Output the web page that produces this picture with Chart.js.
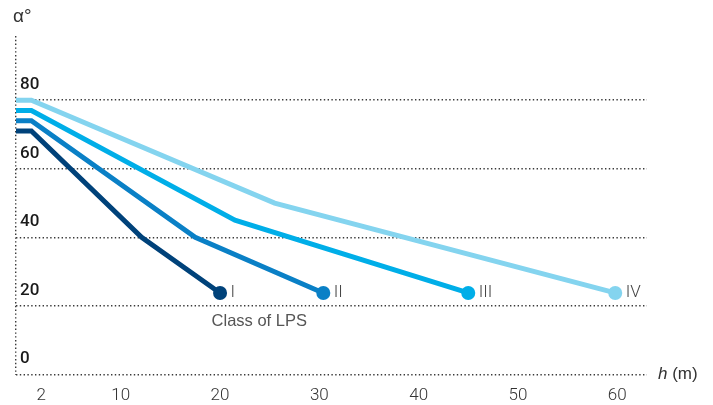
<!DOCTYPE html>
<html>
<head>
<meta charset="utf-8">
<script src="https://cdn.jsdelivr.net/npm/chart.js@4"></script>
<style>
  html, body { margin: 0; padding: 0; background: #fff; }
  #wrap { position: relative; width: 713px; height: 405px; }
</style>
</head>
<body>
<div id="wrap"><canvas id="c"></canvas></div>
<script>
// ---- data ----
const classNames = ["I", "II", "III", "IV"];
const hClassI   = [-0.55, 1, 12.1, 20];
const aClassI   = [71, 71, 40, 23.8];
const hClassII  = [-0.55, 1, 17.5, 30.4];
const aClassII  = [74, 74, 40, 23.8];
const hClassIII = [-0.55, 1, 21.5, 45];
const aClassIII = [77, 77, 45, 23.8];
const hClassIV  = [-0.55, 1, 25.5, 59.8];
const aClassIV  = [80, 80, 50, 23.8];
const xTickValues = [2, 10, 20, 30, 40, 50, 60];
const yTickValues = [0, 20, 40, 60, 80];
const xMin = -0.55, xMax = 63, yMin = 0, yMax = 98.7;
const colors = ["#00427a", "#0a80c6", "#00aee8", "#84d4ef"];

const toPts = (hs, as) => hs.map((h, i) => ({ x: h, y: as[i] }));
const series = [
  toPts(hClassI, aClassI),
  toPts(hClassII, aClassII),
  toPts(hClassIII, aClassIII),
  toPts(hClassIV, aClassIV)
];

const datasets = series.map((pts, i) => ({
  label: classNames[i],
  data: pts,
  borderColor: colors[i],
  backgroundColor: colors[i],
  borderWidth: 5,
  pointRadius: pts.map((p, j) => j === pts.length - 1 ? 7 : 0),
  pointBorderWidth: 0,
  pointHoverRadius: 0,
  fill: false,
  tension: 0
}));

const gridDash = [1.4, 2.4];
const gridColor = "#3a3a3a";

const textPlugin = {
  id: "texts",
  afterDatasetsDraw(chart) {
    const ctx = chart.ctx;
    const area = chart.chartArea;
    const ys = chart.scales.y;
    ctx.save();
    ctx.textBaseline = "middle";
    ctx.textAlign = "left";
    ctx.fillStyle = "#444";
    ctx.font = "300 17px Roboto";
    chart.data.datasets.forEach((ds, i) => {
      const meta = chart.getDatasetMeta(i);
      const last = meta.data[meta.data.length - 1];
      ctx.fillText(ds.label, last.x + 10.5, last.y);
      if (i === 0) {
        ctx.font = "16.5px 'Liberation Sans'";
        ctx.fillStyle = "#555";
        ctx.fillText("Class of LPS", last.x - 8.5, last.y + 29);
        ctx.font = "300 17px Roboto";
        ctx.fillStyle = "#444";
      }
    });
    // axis names
    ctx.fillStyle = "#333";
    ctx.font = "19px 'Liberation Sans'";
    ctx.fillText("α°", area.left - 3, area.top - 19);
    const y0 = ys.getPixelForValue(0);
    ctx.font = "italic 17px 'Liberation Sans'";
    const hx = area.right + 11;
    ctx.fillText("h", hx, y0);
    const hw = ctx.measureText("h").width;
    ctx.font = "17px 'Liberation Sans'";
    ctx.fillText(" (m)", hx + hw, y0);
    ctx.restore();
  }
};

new Chart(document.getElementById("c"), {
  type: "line",
  data: { datasets },
  plugins: [textPlugin],
  options: {
    responsive: true,
    maintainAspectRatio: false,
    animation: false,
    events: [],
    layout: { padding: { left: 16, right: 66, top: 36, bottom: 0 } },
    plugins: { legend: { display: false }, tooltip: { enabled: false } },
    elements: { line: { borderJoinStyle: "miter", borderCapStyle: "butt" } },
    scales: {
      x: {
        type: "linear",
        min: xMin,
        max: xMax,
        afterBuildTicks(scale) {
          scale.ticks = [xMin].concat(xTickValues).map(v => ({ value: v }));
        },
        afterFit(scale) { scale.height = 30.4; },
        ticks: {
          autoSkip: false,
          maxRotation: 0,
          padding: 11,
          color: "#333",
          font: { family: "Roboto", weight: "300", size: 17 },
          callback: (v) => (v === xMin ? "" : String(v))
        },
        grid: {
          drawTicks: false,
          lineWidth: 1.4,
          color: (c) => (c.tick && c.tick.value === xMin ? gridColor : "rgba(0,0,0,0)")
        },
        border: { display: false, dash: gridDash }
      },
      y: {
        type: "linear",
        min: yMin,
        max: yMax,
        afterBuildTicks(scale) {
          scale.ticks = yTickValues.map(v => ({ value: v }));
        },
        afterFit(scale) { scale.width = 0; },
        ticks: {
          mirror: true,
          padding: 4,
          labelOffset: -15.5,
          color: "#1a1a1a",
          font: { family: "Roboto", weight: "500", size: 17 }
        },
        grid: { drawTicks: false, lineWidth: 1.4, color: gridColor },
        border: { display: false, dash: gridDash }
      }
    }
  }
});
</script>
</body>
</html>
